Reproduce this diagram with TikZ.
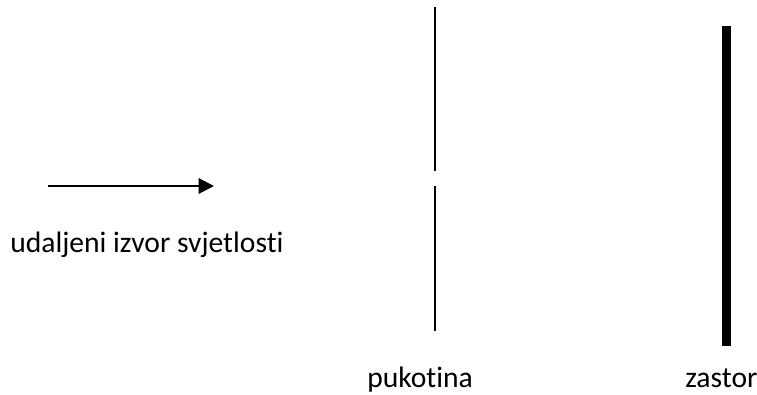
\documentclass[tikz,border=0pt]{standalone}
\usepackage{fontspec}
\setmainfont{Carlito}[Ligatures=NoCommon]
\usetikzlibrary{arrows.meta}
\begin{document}
\begin{tikzpicture}[x=0.75pt,y=-0.75pt,
  lbl/.style={font=\fontsize{22.2}{26}\selectfont, inner sep=0pt, anchor=base west},
  ray/.style={line width=1.6pt, -{Triangle[length=11.5pt,width=11.5pt]}},
  slitwall/.style={line width=1.5pt},
  screenwall/.style={line width=6.5pt}]
\useasboundingbox (0,0) rectangle (757,394);
\coordinate (src) at (48,186);
\coordinate (srcend) at (214,186);
\draw[ray] (src) -- (srcend);
\coordinate (s1) at (435,7);
\coordinate (s2) at (435,171);
\coordinate (s3) at (435,186);
\coordinate (s4) at (435,331);
\draw[slitwall] (s1) -- (s2);
\draw[slitwall] (s3) -- (s4);
\coordinate (z1) at (726.5,26);
\coordinate (z2) at (726.5,346);
\draw[screenwall] (z1) -- (z2);
\node[lbl] (izvor) at (10,252) {udaljeni izvor svjetlosti};
\node[lbl] (pukotina) at (367,387) {pukotina};
\node[lbl] (zastor) at (685,387) {zastor};
\end{tikzpicture}
\end{document}
